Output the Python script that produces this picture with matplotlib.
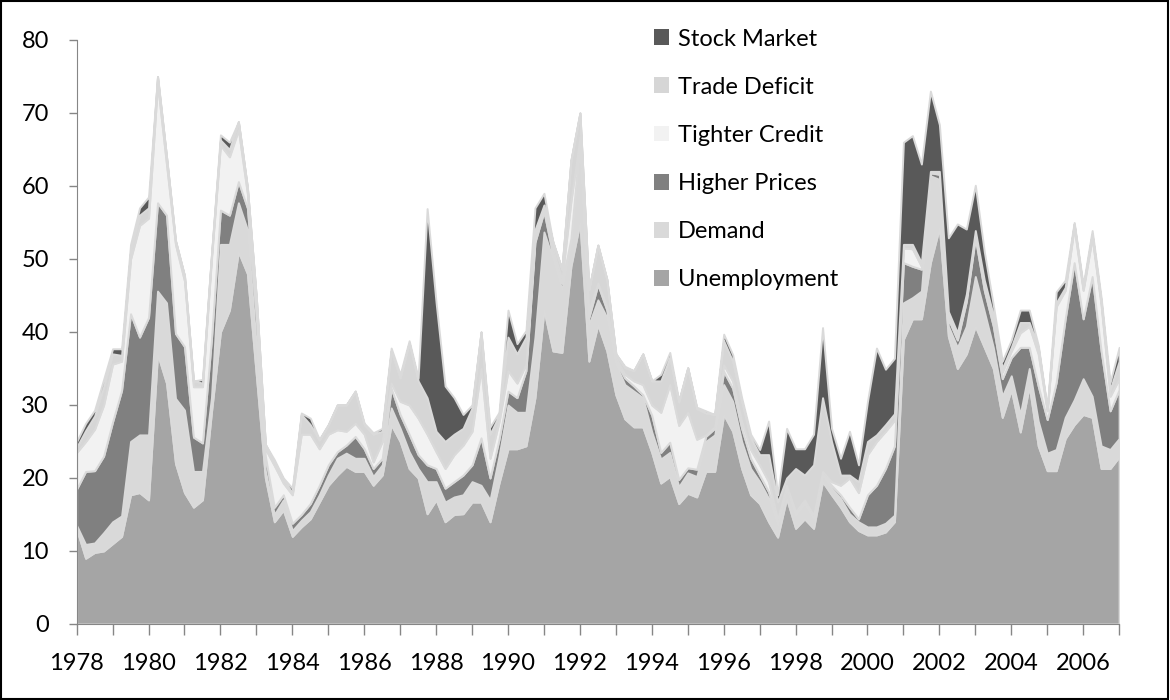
import matplotlib
matplotlib.use('Agg')
import matplotlib.pyplot as plt
import numpy as np

# quarterly, 1978Q1 .. 2007Q1
unemployment = [13, 9, 9.8, 10, 11, 12, 17.7, 18, 17, 37, 33, 22, 18, 16, 17, 29,
                40, 43, 51, 48, 34, 20, 14, 15.6, 12, 13.3, 14.4, 16.7, 19, 20.4, 21.6, 20.9,
                20.9, 19, 20.4, 27.3, 25, 21.3, 20, 15.1, 17, 14, 15, 15.1, 16.7, 16.7, 14, 19.3,
                24, 24, 24.4, 31, 43, 37.4, 37.2, 49, 55, 36, 41, 37.4, 31.4, 28.1, 27, 27,
                23.5, 19.3, 20.2, 16.5, 17.9, 17.4, 20.9, 20.9, 28.7, 26.4, 21.3, 17.7, 16.5, 14, 11.9, 17.2,
                13.1, 14.4, 13.1, 19.5, 17.7, 16, 14, 12.8, 12.2, 12.2, 12.6, 14, 39, 41.8, 41.8, 49.5,
                54.3, 39.4, 35, 37, 40.8, 37.9, 35, 28.3, 32.1, 26.3, 32.6, 24.4, 21, 21, 25.4, 27.3,
                28.7, 28.3, 21.3, 21.3, 22.9]
demand = [0.5, 1.9, 1.3, 2.5, 3, 2.8, 7.3, 7.9, 8.9, 8.6, 11, 8.9, 11.3, 4.9, 3.9, 2,
          12, 9, 6.7, 6, 4, 1, 1, 1.4, 0.8, 0.9, 1, 1, 1.4, 2.3, 1.8, 1.8,
          1.8, 1.2, 1.4, 2.3, 1.8, 2.3, 1.3, 4.4, 2.5, 2.7, 2.4, 2.6, 2.8, 2.3, 3, 3.7,
          6, 5, 4.6, 8.3, 10.7, 12.6, 8.6, 3.3, 10.8, 5, 3.4, 4.6, 4.2, 4.7, 4.9, 4,
          2.8, 3.3, 3.3, 2.3, 2.8, 2.8, 4.1, 5, 4.1, 4.1, 3.7, 3.6, 3, 3.2, 1.6, 1.4,
          1.8, 2.1, 1.3, 0.9, 0.9, 1.2, 1.1, 1.2, 1.1, 1.1, 1.2, 0.9, 5, 2.9, 3.8, 11.9,
          6.6, 1.4, 2.9, 3.8, 6.8, 4.9, 2.9, 2.9, 1.9, 2.4, 2.4, 3.4, 2.4, 2.9, 2.9, 3.4,
          4.9, 2.9, 3.1, 2.6, 2.5]
higher_prices = [5, 10, 9.9, 10.5, 13.7, 17.2, 17.5, 13.4, 16.1, 12.1, 12, 8.9, 8.7, 4.7, 3.9, 8,
                 4.7, 4, 2.9, 3, 4, 2, 1, 0.7, 1, 0.8, 1.1, 1.3, 1.4, 0.9, 1.1, 3,
                 1.3, 1.1, 0.9, 2.7, 1.9, 2.4, 1.9, 2.3, 1.8, 1.9, 2.1, 2.7, 2.3, 6.5, 3, 2.3,
                 1.9, 2, 5.7, 13, 2.8, 0.5, 0.9, 0.5, 0.5, 1, 2.1, 1, 0.4, 0.9, 0.7, 0.4,
                 2.3, 0.9, 1.4, 1, 0.7, 1, 0.7, 0.9, 1.8, 1.8, 1.8, 1.4, 0.9, 0.9, 0.5, 0.2,
                 0.2, 0.2, 0.3, 0.2, 0.4, 0.5, 0.9, 0.4, 4.4, 5.7, 7.5, 9.5, 5.5, 4.3, 3, 0.4,
                 0.7, 1, 1, 3.4, 5.3, 2.9, 2.9, 2.4, 2.5, 9.2, 2.9, 4.8, 4.6, 9.2, 13.5, 18.8,
                 8.2, 16.4, 13, 5.3, 6.7]
tighter_credit = [5, 4.1, 5.7, 7, 7.9, 4, 7.5, 15.3, 13.6, 16.3, 7, 12.2, 9, 6.9, 7.7, 11,
                  8.9, 8, 7.1, 2, 1.6, 1, 5.7, 1.6, 3.9, 11, 9.5, 5, 4.2, 3, 1.9, 1.8,
                  2, 0.9, 2.3, 0.7, 1.8, 4, 5, 4.2, 2.3, 2.7, 3.7, 4.1, 4.6, 9.5, 2.7, 2.4,
                  2.8, 2, 0.9, 0.7, 0.5, 0.9, 0.5, 5.1, 0.4, 1, 0.2, 0.5, 0.5, 0.5, 0.7, 1.4,
                  1.4, 5.5, 7.9, 7.4, 7.6, 4.1, 0.2, 0.2, 0.9, 1, 1, 1.2, 1.4, 1.4, 0.4, 0.2,
                  0.3, 0.3, 0.2, 0.3, 0.5, 1.3, 4, 3.6, 5.5, 6, 5.1, 3.5, 2, 2.4, 0.4, 0.1,
                  0.2, 0.5, 0.5, 0.5, 0.5, 0.9, 1, 0.9, 0.9, 2, 2.9, 4.4, 1.2, 10.4, 3.9, 4.8,
                  3.9, 5.3, 6.3, 2, 1.5]
trade_deficit = [0.7, 1.5, 1.8, 2.5, 1.4, 0.8, 1, 1.4, 1.4, 1, 1, 0.5, 0.7, 0.8, 0.5, 0.5,
                 0.7, 1, 1.1, 0.8, 1, 0.6, 0.3, 0.5, 0.3, 2.7, 1.3, 1.2, 1.3, 3.4, 3.6, 4.4,
                 1.3, 3.8, 1.4, 4.4, 3.2, 8.5, 5.1, 5, 2.8, 3.7, 2.8, 2.3, 3.2, 5, 3.3, 0.9,
                 4.6, 4, 3.7, 1, 0.4, 0.9, 1.4, 5.6, 3.3, 2.8, 5.2, 3.7, 0.5, 0.9, 1.4, 4.2,
                 3.3, 4.3, 3.7, 3.2, 6.1, 4.2, 3, 1.7, 3.3, 2.7, 2.7, 1.6, 1.4, 3.7, 2.3, 1,
                 5.9, 3.4, 6.9, 10.1, 5.5, 1.4, 0.4, 1.5, 1.8, 0.9, 0.9, 0.9, 0.5, 0.6, 0.5, 0.1,
                 0.2, 0.5, 0.5, 0.5, 0.5, 0.5, 0.5, 0.5, 0.5, 1.4, 0.5, 0.9, 0.2, 0.5, 0.4, 0.5,
                 0.3, 0.5, 0.5, 0.9, 2.4]
stock_market = [0.8, 1, 0.8, 1, 0.7, 0.9, 1, 1, 1.5, 0, 0, 0, 0, 0, 0.5, 0,
                0.7, 1, 0, 0, 0, 0, 0.5, 0.2, 0.6, 0.2, 0.9, 0.1, 0, 0, 0, 0,
                0.2, 0.2, 0.4, 0.4, 0.5, 0.3, 0.4, 25.9, 17.6, 7.6, 5, 1.9, 0.4, 0, 1, 0.4,
                3.7, 1.4, 0.9, 3, 1.6, 0, 0, 0, 0, 0, 0, 0, 0, 0.2, 0, 0,
                0, 0.9, 0.7, 0.2, 0, 0.2, 0.3, 0, 0.9, 0.9, 0.5, 0.5, 0.7, 4.6, 1, 6.8,
                2.7, 3.6, 4.2, 9.6, 1.8, 2.3, 6, 2.3, 5.5, 11.9, 7.6, 7.6, 14, 14.9, 13.5, 11,
                6.4, 10.1, 14.9, 8.9, 6.2, 3.9, 1.4, 1, 1, 1.7, 1.7, 0.3, 0.1, 1.5, 1, 0.2,
                0.4, 0.5, 0.5, 1, 1.9]

series = [unemployment, demand, higher_prices, tighter_credit, trade_deficit, stock_market]
labels = ['Unemployment', 'Demand', 'Higher Prices', 'Tighter Credit', 'Trade Deficit', 'Stock Market']
colors = ['#a5a5a5', '#d9d9d9', '#808080', '#f2f2f2', '#d6d6d6', '#595959']

year_labels = [str(y) for y in range(1978, 2007, 2)]

plt.rcParams['font.family'] = ['Lato', 'DejaVu Sans']

fig = plt.figure(figsize=(11.7, 7.0), dpi=100)
fig.patch.set_facecolor('white')
ax = fig.add_axes([0.0655, 0.1086, 0.891, 0.8343])

x = np.arange(len(unemployment))
ax.stackplot(x, *series, labels=labels, colors=colors,
             edgecolor='#dadada', linewidth=1.4)

ax.set_xlim(0, len(x) - 1)
ax.set_ylim(0, 80)
ax.set_yticks(range(0, 81, 10))
ticks = list(range(0, len(x), 4))
ax.set_xticks(ticks)
ax.set_xticklabels([year_labels[k // 2] if k % 2 == 0 else '' for k in range(len(ticks))])

ax.tick_params(axis='both', labelsize=17, colors='#868686', labelcolor='black')
ax.tick_params(axis='x', length=8, width=1, pad=13)
ax.tick_params(axis='y', length=6, width=1, pad=14)
for side in ['top', 'right']:
    ax.spines[side].set_visible(False)
for side in ['left', 'bottom']:
    ax.spines[side].set_color('#868686')

handles, labs = ax.get_legend_handles_labels()
leg = ax.legend(handles[::-1], labs[::-1], loc='upper left', bbox_to_anchor=(0.533, 1.056),
                frameon=False, fontsize=17, handlelength=0.65, handleheight=0.65,
                handletextpad=0.4, labelspacing=1.15)
for h in leg.legend_handles:
    h.set_edgecolor('none')

# outer chart border
fig.add_artist(plt.Rectangle((0.001, 0.002), 0.997, 0.996, transform=fig.transFigure,
                             fill=False, edgecolor='black', linewidth=1.5))

fig.savefig('out.png', dpi=100)
plt.close()
